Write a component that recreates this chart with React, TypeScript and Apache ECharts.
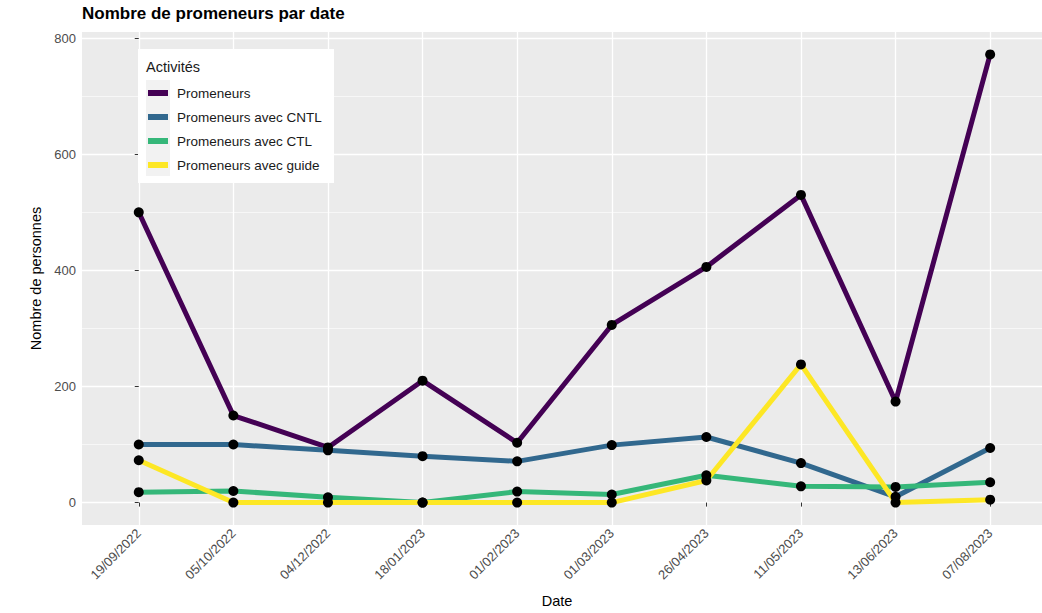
import React, { useEffect, useRef } from "react";
import * as echarts from "echarts";

const dates = [
  "19/09/2022", "05/10/2022", "04/12/2022", "18/01/2023", "01/02/2023",
  "01/03/2023", "26/04/2023", "11/05/2023", "13/06/2023", "07/08/2023",
];
const seriesNames = [
  "Promeneurs",
  "Promeneurs avec CNTL",
  "Promeneurs avec CTL",
  "Promeneurs avec guide",
];
const promeneurs = [500, 150, 95, 210, 103, 306, 406, 530, 174, 772];
const avecCNTL = [100, 100, 90, 80, 71, 99, 113, 68, 10, 94];
const avecCTL = [18, 20, 9, 0, 19, 14, 47, 28, 27, 35];
const avecGuide = [73, 0, 0, 0, 0, 0, 38, 238, 0, 5];
const colors = ["#440154", "#31688E", "#35B779", "#FDE725"];
const yMajorTicks = [0, 200, 400, 600, 800];
const yMinorTicks = [100, 300, 500, 700];

const FONT = "'Liberation Sans', Arial, sans-serif";

export default function App() {
  const ref = useRef<HTMLDivElement>(null);
  useEffect(() => {
    if (!ref.current) return;
    const chart = echarts.init(ref.current, null, { renderer: "svg" });
    const allValues = [promeneurs, avecCNTL, avecCTL, avecGuide];
    const xIdx = dates.map((_, i) => i);
    const lineSeries = allValues.map((vals, k) => ({
      name: seriesNames[k],
      type: "line",
      data: vals.map((v, i) => [i, v]),
      showSymbol: false,
      symbol: "none",
      clip: false,
      z: 2,
      lineStyle: { color: colors[k], width: 5, cap: "round", join: "round" },
      itemStyle: { color: colors[k] },
    }));
    const pointSeries = allValues.map((vals, k) => ({
      name: seriesNames[k] + " points",
      type: "scatter",
      data: vals.map((v, i) => [i, v]),
      symbol: "circle",
      symbolSize: 10,
      clip: false,
      z: 3,
      itemStyle: { color: "#000000", opacity: 1 },
    }));
    chart.setOption({
      animation: false,
      backgroundColor: "#ffffff",
      textStyle: { fontFamily: FONT },
      title: {
        text: "Nombre de promeneurs par date",
        left: 82,
        top: 5,
        padding: 0,
        textStyle: { fontFamily: FONT, fontSize: 17, fontWeight: "bold", color: "#000000" },
      },
      grid: {
        left: 82,
        right: 0,
        top: 32,
        bottom: 88,
        show: true,
        backgroundColor: "#EBEBEB",
        borderWidth: 0,
        containLabel: false,
      },
      xAxis: {
        type: "value",
        min: -0.6,
        max: 9.548,
        name: "Date",
        nameLocation: "middle",
        nameGap: 68,
        nameTextStyle: { fontFamily: FONT, fontSize: 14.5, color: "#000000", verticalAlign: "top", padding: [0, 10, 0, 0] },
        axisLine: { show: false },
        axisTick: { show: true, length: 4, customValues: xIdx, lineStyle: { color: "#333333", width: 1 } },
        axisLabel: {
          customValues: xIdx,
          rotate: 45,
          margin: 6,
          fontFamily: FONT,
          fontSize: 13,
          color: "#4D4D4D",
          formatter: (v: number) => dates[Math.round(v)] ?? "",
        },
        splitLine: { show: true, lineStyle: { color: "#FFFFFF", width: 1.3 } },
      },
      yAxis: [
        {
          type: "value",
          min: -38.6,
          max: 810.6,
          name: "Nombre de personnes",
          nameLocation: "middle",
          nameGap: 34,
          nameTextStyle: { fontFamily: FONT, fontSize: 14.5, color: "#000000" },
          axisLine: { show: false },
          axisTick: { show: true, length: 4, customValues: yMajorTicks, lineStyle: { color: "#333333", width: 1 } },
          axisLabel: { customValues: yMajorTicks, margin: 6, fontFamily: FONT, fontSize: 13, color: "#4D4D4D" },
          splitLine: { show: true, lineStyle: { color: "#FFFFFF", width: 1.3 } },
        },
        {
          type: "value",
          min: -38.6,
          max: 810.6,
          position: "left",
          axisLine: { show: false },
          axisTick: { show: false, customValues: yMinorTicks },
          axisLabel: { show: false, customValues: yMinorTicks },
          splitLine: { show: true, lineStyle: { color: "#FFFFFF", width: 0.6 } },
        },
      ],
      legend: {
        data: seriesNames.map((n, k) => ({ name: n, itemStyle: { color: colors[k] } })),
        orient: "vertical",
        left: 148,
        top: 85,
        padding: 0,
        itemGap: 8,
        itemWidth: 20,
        itemHeight: 6,
        icon: "rect",
        align: "left",
        selectedMode: false,
        textStyle: { fontFamily: FONT, fontSize: 13.5, color: "#1A1A1A", lineHeight: 16, padding: [0, 0, 0, 4] },
        z: 10,
      },
      graphic: [
        { type: "rect", z: 8, shape: { x: 138, y: 49, width: 196, height: 134 }, style: { fill: "#FFFFFF" } },
        { type: "rect", z: 9, shape: { x: 146, y: 80, width: 24, height: 96 }, style: { fill: "#F2F2F2" } },
        {
          type: "text",
          z: 9,
          x: 146,
          y: 59,
          style: { text: "Activités", fontFamily: FONT, fontSize: 14.5, fill: "#1A1A1A" },
        },
      ],
      series: [...lineSeries, ...pointSeries],
    });
    return () => chart.dispose();
  }, []);
  return (
    <div
      ref={ref}
      style={{ position: "fixed", left: 0, top: 0, width: 1042, height: 613 }}
    />
  );
}
